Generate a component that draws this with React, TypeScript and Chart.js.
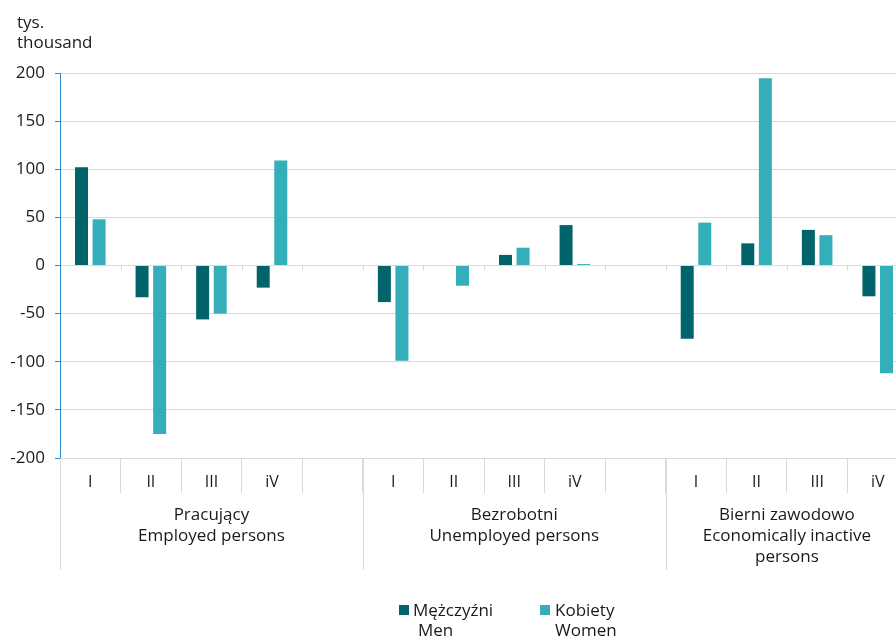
import React, { useEffect, useRef } from 'react';
import { Chart, registerables } from 'chart.js';
Chart.register(...registerables);

const categories = ['I', 'II', 'III', 'iV', '', 'I', 'II', 'III', 'iV', '', 'I', 'II', 'III', 'iV'];
const menValues = [102, -33, -56, -23, null, -38, 0, 11, 42, null, -76, 23, 37, -32];
const womenValues = [48, -175, -50, 109, null, -99, -21, 18.5, 1.5, null, 44.5, 194.5, 31.5, -112];
const groupLabels = [
  ['Pracujący', 'Employed persons'],
  ['Bezrobotni', 'Unemployed persons'],
  ['Bierni zawodowo', 'Economically inactive', 'persons'],
];
const groupSpans = [5, 5, 4];
const seriesNames = [['Mężczyźni', 'Men'], ['Kobiety', 'Women']];
const unitLabel = ['tys.', 'thousand'];
const yMin = -200;
const yMax = 200;
const yStep = 50;

const MEN_COLOR = '#02646B';
const WOMEN_COLOR = '#34AFB9';
const GRID = '#d9d9d9';
const AXIS_BLUE = '#2a8ad4';
const FONT = '"Open Sans", sans-serif';
const TEXT = '#1a1a1a';

const groupPlugin = {
  id: 'groupPlugin',
  afterDraw(chart: any) {
    const ctx = chart.ctx;
    const xs = chart.scales.x;
    const ys = chart.scales.y;
    const n = categories.length;
    const w = (xs.getPixelForValue(1) - xs.getPixelForValue(0));
    const edge = (i: number) => xs.getPixelForValue(i) - w / 2;
    const y0 = ys.getPixelForValue(0);
    const bottom = chart.chartArea.bottom;
    ctx.save();
    ctx.strokeStyle = GRID;
    ctx.lineWidth = 1;
    // small ticks on zero line
    for (let i = 1; i < n; i++) {
      const px = Math.round(edge(i)) + 0.5;
      ctx.beginPath();
      ctx.moveTo(px, y0);
      ctx.lineTo(px, y0 + 5);
      ctx.stroke();
    }
    // group separators and labels
    let start = 0;
    ctx.fillStyle = TEXT;
    ctx.font = '17px ' + FONT;
    ctx.textAlign = 'center';
    ctx.textBaseline = 'middle';
    groupSpans.forEach((span, gi) => {
      const px = Math.round(edge(start)) + 0.5;
      ctx.beginPath();
      ctx.moveTo(px, bottom);
      ctx.lineTo(px, bottom + 112);
      ctx.stroke();
      const cx = (edge(start) + edge(start + span)) / 2;
      groupLabels[gi].forEach((line, li) => {
        ctx.fillText(line, cx, bottom + 57 + li * 21);
      });
      start += span;
    });
    ctx.restore();
  },
};

export default function App() {
  const ref = useRef<HTMLCanvasElement>(null);
  useEffect(() => {
    document.documentElement.style.overflow = 'hidden';
    document.body.style.overflow = 'hidden';
    const chart = new Chart(ref.current!, {
      type: 'bar',
      data: {
        labels: categories,
        datasets: [
          { label: seriesNames[0].join(' '), data: menValues as any, backgroundColor: MEN_COLOR, categoryPercentage: 0.58, barPercentage: 0.74 },
          { label: seriesNames[1].join(' '), data: womenValues as any, backgroundColor: WOMEN_COLOR, categoryPercentage: 0.58, barPercentage: 0.74 },
        ],
      },
      options: {
        responsive: false,
        animation: false,
        layout: { padding: { left: 0, right: 2, top: 73, bottom: 141 } },
        plugins: { legend: { display: false }, tooltip: { enabled: false } },
        scales: {
          x: {
            grid: { drawOnChartArea: false, drawTicks: true, tickLength: 35, color: GRID, tickColor: GRID, offset: true },
            border: { display: false },
            ticks: { color: TEXT, font: { family: FONT, size: 16 }, padding: -20, maxRotation: 0, autoSkip: false },
            afterFit: (s: any) => { s.height = 40; },
          },
          y: {
            min: yMin,
            max: yMax,
            grid: { color: GRID, tickColor: AXIS_BLUE, tickLength: 5 },
            border: { display: true, color: AXIS_BLUE, width: 1 },
            ticks: { stepSize: yStep, color: TEXT, font: { family: FONT, size: 17 }, padding: 10 },
            afterFit: (s: any) => { s.width = 60; },
          },
        },
      },
      plugins: [groupPlugin],
    });
    return () => chart.destroy();
  }, []);

  const legendText: React.CSSProperties = { position: 'absolute', font: '17px ' + FONT, color: TEXT, whiteSpace: 'nowrap', lineHeight: '20px' };
  return (
    <div style={{ position: 'fixed', left: 0, top: 0, width: 910, height: 639, background: '#fff' }}>
      <canvas ref={ref} width={910} height={639} style={{ width: 910, height: 639, display: 'block' }} />
      <div style={{ ...legendText, left: 17, top: 12 }}>{unitLabel[0]}<br />{unitLabel[1]}</div>
      <div style={{ position: 'absolute', left: 399, top: 605, width: 10, height: 10, background: MEN_COLOR }} />
      <div style={{ ...legendText, left: 413, top: 600 }}>{seriesNames[0][0]}</div>
      <div style={{ ...legendText, left: 418, top: 620 }}>{seriesNames[0][1]}</div>
      <div style={{ position: 'absolute', left: 540, top: 605, width: 10, height: 10, background: WOMEN_COLOR }} />
      <div style={{ ...legendText, left: 555, top: 600 }}>{seriesNames[1][0]}</div>
      <div style={{ ...legendText, left: 555, top: 620 }}>{seriesNames[1][1]}</div>
    </div>
  );
}
